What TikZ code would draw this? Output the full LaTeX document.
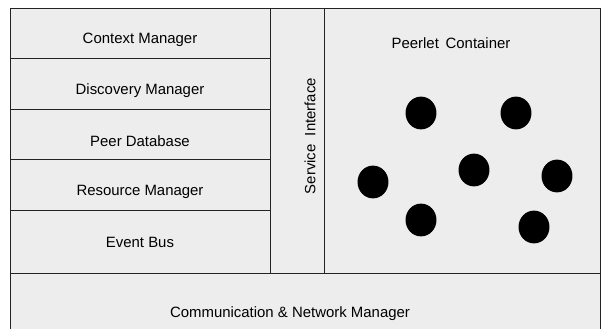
\documentclass[tikz,border=0pt]{standalone}
\usepackage{fontspec}
\setmainfont{Liberation Sans}
\usetikzlibrary{shapes.geometric, positioning, calc}
\definecolor{layergray}{RGB}{237,237,237}
\definecolor{layeredge}{RGB}{35,35,35}

\begin{document}
\begin{tikzpicture}[x=0.75pt, y=-0.75pt,
    layer/.style={draw=layeredge, fill=layergray, line width=0.75pt, anchor=north west, inner sep=0pt},
    caption/.style={font=\fontsize{11.2}{13}\selectfont, inner sep=0pt},
    peerlet/.style={ellipse, fill=black, inner sep=0pt, minimum width=23.2pt, minimum height=24.6pt}]
  \useasboundingbox (0,0) rectangle (601,329);
  \clip (0,0) rectangle (601,329);

  % manager stack on the left
  \node[layer, minimum width=195pt, minimum height=37.5pt] (ctx) at (10,8) {};
  \node[layer, minimum width=195pt, minimum height=38.25pt] (disc) at (10,58) {};
  \node[layer, minimum width=195pt, minimum height=37.5pt] (db) at (10,109) {};
  \node[layer, minimum width=195pt, minimum height=38.25pt] (res) at (10,159) {};
  \node[layer, minimum width=195pt, minimum height=47.25pt] (bus) at (10,210) {};
  \node[caption] (ctx-t) at (140,40) {Context Manager};
  \node[caption] (disc-t) at (140,91) {Discovery Manager};
  \node[caption] (db-t) at (140,141) {Peer Database};
  \node[caption] (res-t) at (140,192) {Resource Manager};
  \node[caption] (bus-t) at (140,242) {Event Bus};

  % service interface column
  \node[layer, minimum width=40.5pt, minimum height=198.75pt] (svc) at (270,8) {};
  \node[caption, rotate=90] (svc-t) at (310,136) {Service\hspace{0.55em}Interface};

  % peerlet container
  \node[layer, minimum width=207pt, minimum height=198.75pt] (cont) at (324,8) {};
  \node[caption] (cont-t) at (451,43) {Peerlet\hspace{0.45em}Container};
  \foreach \name/\px/\py in {p1/421/113, p2/516/113, p3/474/170, p4/373/182,
                             p5/557/176, p6/421/220, p7/534/227}
    \node[peerlet] (\name) at (\px,\py) {};

  % communication layer along the bottom
  \node[layer, minimum width=442.5pt, minimum height=60pt] (comm) at (10,273) {};
  \node[caption] (comm-t) at (290,314) {Communication \& Network Manager};
\end{tikzpicture}
\end{document}
